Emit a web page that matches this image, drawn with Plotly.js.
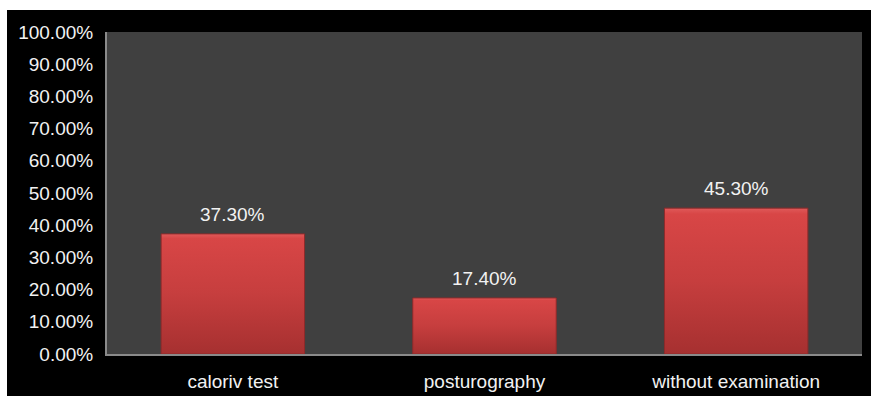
<!DOCTYPE html>
<html><head><meta charset="utf-8">
<script src="https://cdn.plot.ly/plotly-3.0.1.min.js"></script>
<style>html,body{margin:0;padding:0;background:#fff;}#chart{position:absolute;left:7px;top:10px;width:864px;height:386px;}</style>
</head><body><div id="chart"></div>
<script>
const categories = ["caloriv test", "posturography", "without examination"];
const values = [37.3, 17.4, 45.3];
const tickVals = [0,10,20,30,40,50,60,70,80,90,100];
const tickText = tickVals.map(v => v.toFixed(2) + "%");
const valueLabels = values.map(v => v.toFixed(2) + "%");

const font = {family: "Liberation Sans, Arial, sans-serif", size: 19, color: "#f2f2f2"};

const trace = {
  type: "bar", x: categories, y: values,
  marker: {color: "#c43c3c", line: {color: "#8e2a2a", width: 1}},
  width: 0.57, hoverinfo: "none"
};
const annotations = categories.map((c, i) => ({
  x: c, y: values[i], text: valueLabels[i], showarrow: false,
  yanchor: "bottom", yshift: 7, font: font
}));
const layout = {
  width: 864, height: 386,
  margin: {l: 100, r: 9, t: 22, b: 42},
  paper_bgcolor: "#000000", plot_bgcolor: "#404040",
  showlegend: false,
  font: font,
  xaxis: {showline: true, linecolor: "#8a8a8a", linewidth: 2, showgrid: false,
          ticks: "outside", ticklen: 9, tickcolor: "rgba(0,0,0,0)", tickfont: font},
  yaxis: {range: [0, 100], showline: true, linecolor: "#8a8a8a", linewidth: 2, showgrid: false,
          zeroline: false, tickvals: tickVals, ticktext: tickText,
          ticks: "outside", ticklen: 8, tickcolor: "rgba(0,0,0,0)", tickfont: font},
  annotations: annotations
};
const gd = document.getElementById("chart");
function addGradient() {
  const svg = gd.querySelector("svg.main-svg");
  if (!svg) return;
  let defs = svg.querySelector("defs");
  if (!svg.querySelector("#barGrad")) {
    const ns = "http://www.w3.org/2000/svg";
    const lg = document.createElementNS(ns, "linearGradient");
    lg.setAttribute("id", "barGrad"); lg.setAttribute("x1", "0"); lg.setAttribute("y1", "0");
    lg.setAttribute("x2", "0"); lg.setAttribute("y2", "1");
    [["0", "#e05a5a"], ["0.04", "#d84646"], ["0.5", "#c63e3e"], ["1", "#a63030"]].forEach(([o, c]) => {
      const s = document.createElementNS(ns, "stop");
      s.setAttribute("offset", o); s.setAttribute("stop-color", c); lg.appendChild(s);
    });
    defs.appendChild(lg);
  }
  gd.querySelectorAll(".bars .point path").forEach(p => { p.style.fill = "url(#barGrad)"; });
}
Plotly.newPlot(gd, [trace], layout, {displayModeBar: false, staticPlot: true}).then(addGradient);
gd.on && gd.on("plotly_afterplot", addGradient);
</script></body></html>
